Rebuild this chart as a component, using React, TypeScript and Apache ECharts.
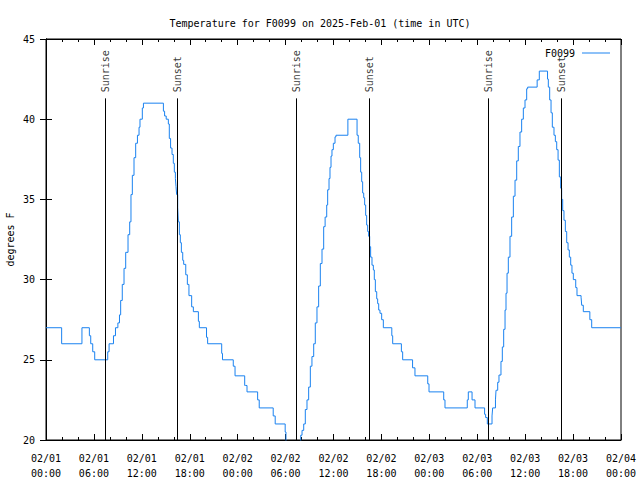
import React, { useEffect, useRef } from "react";
import * as echarts from "echarts";

// Hours since 2025-02-01 00:00 UTC at which each reading begins
const hours: number[] = [
  0, 1.96, 4.5, 5.43, 5.6, 5.85, 6.1, 7.73, 7.9, 8.45, 8.7, 9.0, 9.2, 9.35, 9.55, 9.77, 9.98,
  10.27, 10.48, 10.64, 10.81, 11.02, 11.23, 11.45, 11.65, 11.77, 12.06, 12.2,
  14.7, 14.85, 15.05, 15.32, 15.44, 15.6, 15.78, 15.94, 16.07, 16.2, 16.28, 16.36, 16.49, 16.57,
  16.7, 16.82, 16.95, 17.12, 17.24, 17.5, 17.7, 17.9, 18.24, 18.45, 19.08, 19.2, 20.1, 20.24,
  22.0, 22.1, 23.45, 23.67, 24.88, 25.0, 25.17, 26.5, 26.7, 28.45, 28.7, 29.95, 30.05, 31.9,
  32.06, 32.27, 32.47, 32.68, 32.89, 33.1, 33.3, 33.52, 33.72, 33.93, 34.14, 34.35, 34.56, 34.77,
  34.95, 35.15, 35.27, 35.44, 35.56, 35.69, 35.81, 35.98, 36.19, 36.31, 37.8,
  38.95, 39.1, 39.28, 39.4, 39.53, 39.65, 39.78, 39.9, 40.03, 40.15, 40.28, 40.4, 40.53, 40.65,
  40.82, 40.99, 41.11, 41.24, 41.41, 41.53, 41.66, 41.82, 42.03, 42.24, 43.3, 43.41, 44.5, 44.66,
  45.9, 46.2, 47.8, 47.96, 49.8, 49.96, 52.75, 52.88, 53.35, 53.72, 54.92, 55.05, 55.26, 55.85,
  55.93, 56.28, 56.35, 56.56, 56.72, 56.97, 57.14, 57.31, 57.48, 57.6, 57.73, 57.89, 58.1, 58.31,
  58.52, 58.73, 58.94, 59.14, 59.35, 59.56, 59.77, 59.98, 60.19, 60.31, 61.5, 61.77,
  62.8, 62.9, 63.07, 63.24, 63.4, 63.61, 63.78, 63.95, 64.12, 64.28, 64.45, 64.57, 64.7, 64.86,
  65.03, 65.2, 65.37, 65.53, 65.7, 65.86, 66.03, 66.33, 66.49, 67.0, 67.08, 67.28, 68.1, 68.33, 72,
];

// Temperature (degrees F)
const tempF: number[] = [
  27, 26, 27, 26.5, 26, 25.5, 25, 25.5, 26, 26.5, 27, 27.3, 27.8, 28.7, 29.7, 30.7, 31.7,
  32.8, 33.6, 35.3, 36.5, 37.6, 38.5, 39.0, 39.5, 40, 40.7, 41,
  40.5, 40.2, 40.0, 39.7, 38.8, 38.2, 37.8, 37.25, 36.7, 36.3, 35.8, 35.3, 34.5, 33.6,
  32.8, 32.3, 31.7, 31.2, 30.95, 30.3, 29.7, 29.0, 28.3, 28, 27.4, 27, 26.4, 26,
  25.4, 25, 24.6, 24, 23.4, 23.4, 23, 22.5, 22, 21.5, 21, 20.5, 19.5, 20.3,
  20.6, 21.0, 21.9, 22.5, 23.3, 24.6, 25.2, 26.0, 27.3, 28.3, 29.6, 31.0, 31.9, 33.3,
  33.9, 34.65, 35.6, 36.3, 37.0, 37.7, 38.1, 38.5, 38.9, 39.0, 40,
  39.0, 38.5, 37.6, 36.7, 36.1, 35.4, 35.1, 34.65, 34.0, 33.4, 33.0, 32.7, 32.05, 31.4,
  30.9, 30.6, 30.0, 29.25, 28.8, 28.5, 28.1, 27.9, 27.5, 27, 26.5, 26, 25.5, 25,
  24.5, 24, 23.5, 23, 22.5, 22, 22.5, 23, 22.5, 22, 21.6, 21.4, 21, 21.5,
  22, 22.5, 23.1, 23.6, 24.05, 24.9, 25.8, 26.9, 28.1, 29.15, 30.4, 31.4, 32.7, 33.9,
  35.2, 36.2, 37.4, 38.3, 39.2, 40.0, 40.7, 41.2, 41.9, 42, 42.45, 43,
  42.5, 42.0, 41.2, 40.4, 39.5, 39.0, 38.6, 38.1, 37.45, 36.4, 35.7, 35.0, 34.3, 33.7,
  33.0, 32.3, 31.85, 31.4, 30.9, 30.4, 30, 29.5, 29, 28.9, 28.4, 28, 27.5, 27, 27,
];

const sunriseHours: number[] = [7.43, 31.35, 55.39];
const sunsetHours: number[] = [16.45, 40.49, 64.53];
const sunLineTop = 41.3;

const xTickDates: string[] = ["02/01", "02/01", "02/01", "02/01", "02/02", "02/02", "02/02", "02/02", "02/03", "02/03", "02/03", "02/03", "02/04"];
const xTickTimes: string[] = ["00:00", "06:00", "12:00", "18:00", "00:00", "06:00", "12:00", "18:00", "00:00", "06:00", "12:00", "18:00", "00:00"];

const FONT = "DejaVu Sans Mono";
const LINE_COLOR = "#1a82f0";

export default function App() {
  const ref = useRef<HTMLDivElement>(null);

  useEffect(() => {
    if (!ref.current) return;
    const chart = echarts.init(ref.current, undefined, { renderer: "svg" });
    const data = hours.map((h, i) => [h, tempF[i]]);

    const sunEvents = [
      ...sunriseHours.map((h) => ({ h, name: "Sunrise" })),
      ...sunsetHours.map((h) => ({ h, name: "Sunset" })),
    ];

    const axisCommon = {
      type: "value" as const,
      axisLine: { show: true, lineStyle: { color: "#000", width: 1 } },
      splitLine: { show: false },
    };

    chart.setOption({
      animation: false,
      backgroundColor: "#fff",
      textStyle: { fontFamily: FONT },
      title: {
        text: "Temperature for F0099 on 2025-Feb-01 (time in UTC)",
        left: "center",
        top: 13,
        textStyle: { fontFamily: FONT, fontSize: 10, fontWeight: "normal", color: "#000" },
      },
      legend: {
        data: [{ name: "F0099", icon: "rect" }],
        right: 25,
        top: 43,
        align: "right",
        itemWidth: 28,
        itemHeight: 1,
        itemGap: 5,
        textStyle: { fontFamily: FONT, fontSize: 10, color: "#000", padding: [0, 2, 0, 0] },
      },
      grid: {
        left: 46,
        right: 19,
        top: 39,
        bottom: 40,
        containLabel: false,
        outerBoundsMode: "none",
        show: true,
        borderColor: "#000",
        borderWidth: 1,
        backgroundColor: "transparent",
      },
      xAxis: [
        {
          ...axisCommon,
          position: "bottom",
          min: 0,
          max: 72,
          interval: 6,
          axisTick: { show: true, inside: true, length: 6, lineStyle: { color: "#000" } },
          minorTick: { show: true, splitNumber: 3, length: 3, lineStyle: { color: "#000" } },
          axisLabel: {
            fontFamily: FONT,
            fontSize: 10,
            color: "#000",
            lineHeight: 15,
            margin: 11,
            formatter: (v: number) => {
              const i = Math.round(v / 6);
              return `${xTickDates[i]}\n${xTickTimes[i]}`;
            },
          },
        },
        {
          ...axisCommon,
          position: "top",
          min: 0,
          max: 72,
          interval: 6,
          axisTick: { show: true, inside: true, length: 6, lineStyle: { color: "#000" } },
          minorTick: { show: true, splitNumber: 3, length: 3, lineStyle: { color: "#000" } },
          axisLabel: { show: false },
        },
      ],
      yAxis: [
        {
          ...axisCommon,
          position: "left",
          min: 20,
          max: 45,
          interval: 5,
          name: "degrees F",
          nameLocation: "middle",
          nameRotate: 90,
          nameGap: 31,
          nameMoveOverlap: false,
          nameTextStyle: { fontFamily: FONT, fontSize: 10, color: "#000" },
          axisTick: { show: true, inside: true, length: 6, lineStyle: { color: "#000" } },
          axisLabel: { fontFamily: FONT, fontSize: 10, color: "#000", margin: 11 },
        },
        {
          ...axisCommon,
          position: "right",
          min: 20,
          max: 45,
          interval: 5,
          axisTick: { show: true, inside: true, length: 6, lineStyle: { color: "#000" } },
          axisLabel: { show: false },
        },
      ],
      series: [
        {
          name: "F0099",
          type: "line",
          step: "end",
          data,
          symbol: "none",
          clip: true,
          lineStyle: { color: LINE_COLOR, width: 1 },
          itemStyle: { color: LINE_COLOR },
          markLine: {
            silent: true,
            symbol: ["none", "none"],
            label: { show: false },
            lineStyle: { color: "#000", width: 1, type: "solid" },
            data: sunEvents.map((e) => [
              { coord: [e.h, 20] },
              { coord: [e.h, sunLineTop] },
            ]),
          },
        },
        {
          name: "sunLabels",
          type: "scatter",
          symbolSize: 0,
          silent: true,
          data: sunEvents.map((e) => ({ value: [e.h, sunLineTop], name: e.name })),
          label: {
            show: true,
            position: "top",
            distance: 6,
            rotate: 90,
            align: "left",
            verticalAlign: "middle",
            formatter: (p: any) => p.name,
            fontFamily: FONT,
            fontSize: 10,
            color: "#000",
          },
        },
      ],
    });

    return () => chart.dispose();
  }, []);

  return (
    <div
      ref={ref}
      style={{ position: "fixed", left: 0, top: 0, width: 640, height: 480 }}
    />
  );
}
